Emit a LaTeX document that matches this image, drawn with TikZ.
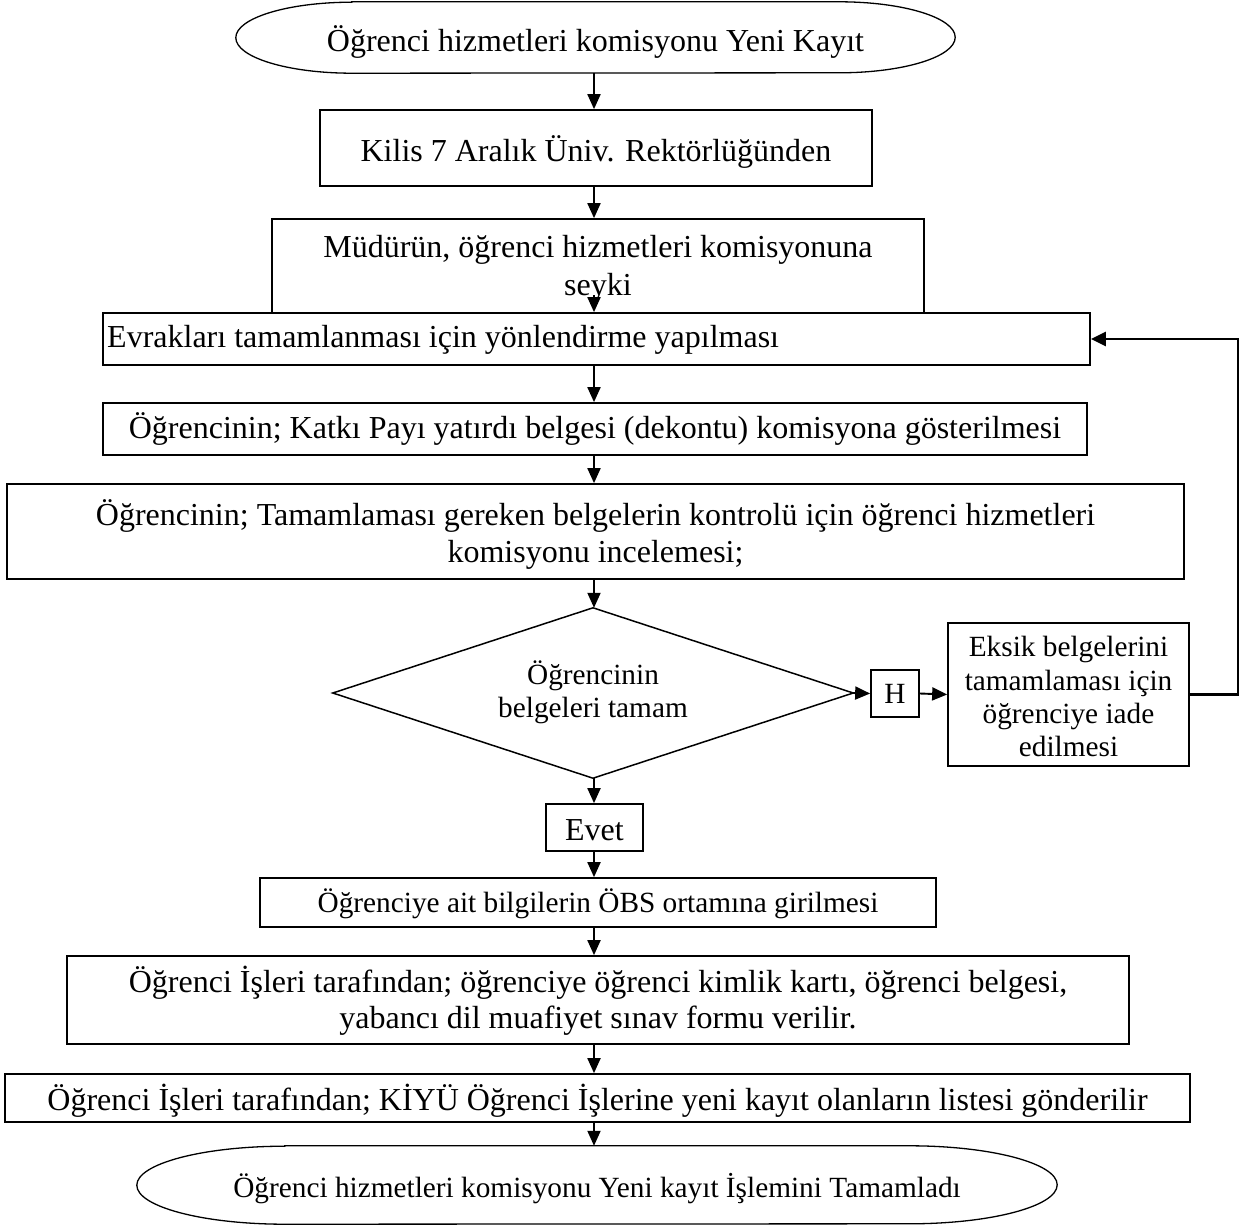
\documentclass[tikz,border=0pt]{standalone}
\usepackage{fontspec}
\setmainfont{Liberation Serif}
\usetikzlibrary{arrows.meta}
\begin{document}
\begin{tikzpicture}[x=1pt,y=-1pt,
  box/.style={draw, line width=1.7pt, inner sep=0pt},
  shape holder/.style={draw=none, inner sep=0pt},
  outline/.style={line width=1.3pt},
  txt/.style={anchor=base, inner sep=0pt, font=\fontsize{32}{36.8}\selectfont},
  txts/.style={anchor=base, inner sep=0pt, font=\fontsize{29.3}{33.7}\selectfont},
  arr/.style={-{Triangle[length=15pt,width=13pt]}, line width=1.9pt},
  looparr/.style={-{Triangle[length=15pt,width=14pt]}, line width=2.6pt}
]
\useasboundingbox (0,0) rectangle (1240,1225);
\fill[white] (0,0) rectangle (1240,1225);
\coordinate (trunk) at (594,0);

% top terminator
\node[shape holder, minimum width=719pt, minimum height=71pt] (e1) at (595.5,37.5) {};
\draw[outline] ([xshift=116pt]e1.north west) -- ([xshift=-116pt]e1.north east)
  arc[start angle=90, end angle=-90, x radius=116pt, y radius=35.5pt]
  -- ([xshift=116pt]e1.south west)
  arc[start angle=270, end angle=90, x radius=116pt, y radius=35.5pt] -- cycle;
\node[txt] (t1) at (595.5,52) {Öğrenci hizmetleri komisyonu Yeni Kayıt};

% box 2
\node[box, minimum width=552pt, minimum height=76pt] (b2) at (596,148) {};
\node[txt] (t2) at (596,162) {Kilis 7 Aralık Üniv. Rektörlüğünden};

% box 3
\node[box, minimum width=652pt, minimum height=94pt] (b3) at (598,266) {};
\node[txt] (t3a) at (598,258) {Müdürün, öğrenci hizmetleri komisyonuna};
\node[txt] (t3b) at (598,295) {seyki};
\coordinate (s34) at (594,295);

% box 4
\node[box, minimum width=987pt, minimum height=52pt] (b4) at (596.5,339) {};
\node[txt, anchor=base west] (t4) at (107,347) {Evrakları tamamlanması için yönlendirme yapılması};

% box 5
\node[box, minimum width=984pt, minimum height=52pt] (b5) at (595,429) {};
\node[txt] (t5) at (595,438) {Öğrencinin; Katkı Payı yatırdı belgesi (dekontu) komisyona gösterilmesi};

% box 6
\node[box, minimum width=1177pt, minimum height=95pt] (b6) at (595.5,531.5) {};
\node[txt] (t6a) at (595.5,525) {Öğrencinin; Tamamlaması gereken belgelerin kontrolü için öğrenci hizmetleri};
\node[txt] (t6b) at (595.5,562) {komisyonu incelemesi;};

% decision
\node[shape holder, minimum width=520pt, minimum height=170pt] (d) at (593,693) {};
\draw[line width=1.5pt] (d.north) -- (d.east) -- (d.south) -- (d.west) -- cycle;
\node[txts] (td1) at (593,684) {Öğrencinin};
\node[txts] (td2) at (593,717) {belgeleri tamam};

% H
\node[box, minimum width=48pt, minimum height=47pt] (h) at (895,693.5) {};
\node[txts] (th) at (895,703) {H};

% Eksik
\node[box, minimum width=241pt, minimum height=143pt] (ek) at (1068.5,694.5) {};
\node[txts] (te1) at (1068.5,656) {Eksik belgelerini};
\node[txts] (te2) at (1068.5,690) {tamamlaması için};
\node[txts] (te3) at (1068.5,723) {öğrenciye iade};
\node[txts] (te4) at (1068.5,756) {edilmesi};

% Evet
\node[box, minimum width=97pt, minimum height=47pt] (ev) at (594.5,827.5) {};
\node[txt] (tev) at (594.5,840) {Evet};

% box 8
\node[box, minimum width=676pt, minimum height=49pt] (b8) at (598,902.5) {};
\node[txts] (t8) at (598,912) {Öğrenciye ait bilgilerin ÖBS ortamına girilmesi};

% box 9
\node[box, minimum width=1062pt, minimum height=88pt] (b9) at (598,1000) {};
\node[txt] (t9a) at (598,992) {Öğrenci İşleri tarafından; öğrenciye öğrenci kimlik kartı, öğrenci belgesi,};
\node[txt] (t9b) at (598,1028) {yabancı dil muafiyet sınav formu verilir.};

% box 10
\node[box, minimum width=1185pt, minimum height=48pt] (b10) at (597.5,1098) {};
\node[txt] (t10) at (597.5,1110) {Öğrenci İşleri tarafından; KİYÜ Öğrenci İşlerine yeni kayıt olanların listesi gönderilir};

% bottom terminator
\node[shape holder, minimum width=920pt, minimum height=78pt] (e2) at (597,1185) {};
\draw[outline] ([xshift=148pt]e2.north west) -- ([xshift=-148pt]e2.north east)
  arc[start angle=90, end angle=-90, x radius=148pt, y radius=39pt]
  -- ([xshift=148pt]e2.south west)
  arc[start angle=270, end angle=90, x radius=148pt, y radius=39pt] -- cycle;
\node[txts] (t11) at (597,1197) {Öğrenci hizmetleri komisyonu Yeni kayıt İşlemini Tamamladı};

% connectors
\draw[arr] (trunk |- e1.south) -- (trunk |- b2.north);
\draw[arr] (trunk |- b2.south) -- (trunk |- b3.north);
\draw[arr] (s34) -- (s34 |- b4.north);
\draw[arr] (trunk |- b4.south) -- (trunk |- b5.north);
\draw[arr] (trunk |- b5.south) -- (trunk |- b6.north);
\draw[arr] (trunk |- b6.south) -- (trunk |- d.north);
\draw[arr] (d.east) -- (h.west);
\draw[arr] (h.east) -- (ek.west);
\draw[looparr] (ek.east) -- ++(48,0) |- (b4.east);
\draw[arr] (trunk |- d.south) -- (trunk |- ev.north);
\draw[arr] (trunk |- ev.south) -- (trunk |- b8.north);
\draw[arr] (trunk |- b8.south) -- (trunk |- b9.north);
\draw[arr] (trunk |- b9.south) -- (trunk |- b10.north);
\draw[arr] (trunk |- b10.south) -- (trunk |- e2.north);
\end{tikzpicture}
\end{document}
